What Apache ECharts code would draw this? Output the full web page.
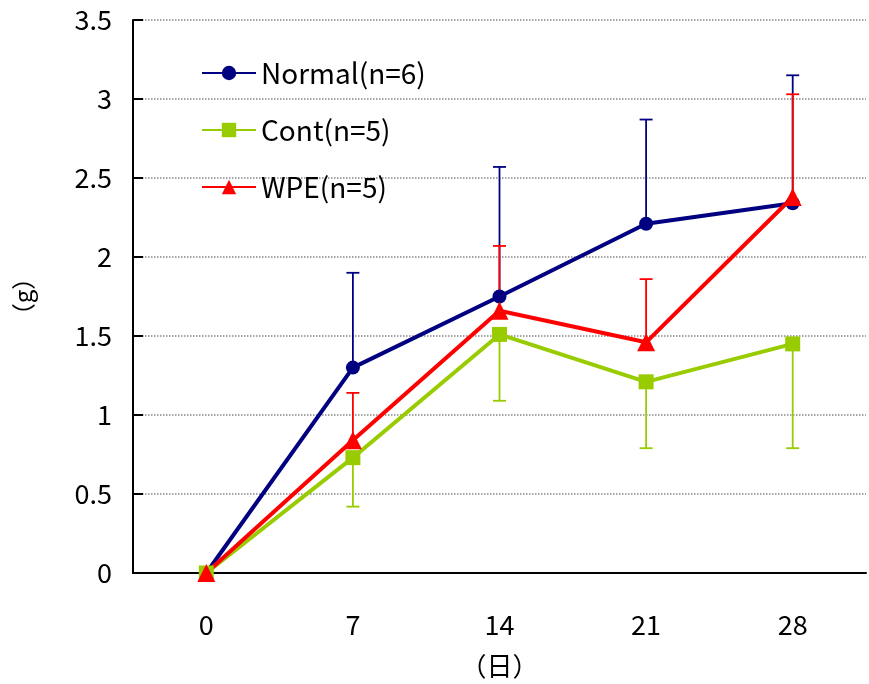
<!DOCTYPE html>
<html><head><meta charset="utf-8">
<script src="https://cdn.jsdelivr.net/npm/echarts@6/dist/echarts.min.js"></script>
<style>html,body{margin:0;padding:0;background:#fff}#c{width:869px;height:684px}</style>
</head><body><div id="c"></div>
<script>
const categories = ['0','7','14','21','28'];
const normalMean = [0, 1.30, 1.75, 2.21, 2.34];
const normalErrEnd = [null, 1.90, 2.57, 2.87, 3.15];
const contMean = [0, 0.73, 1.51, 1.21, 1.45];
const contErrEnd = [null, 0.42, 1.09, 0.79, 0.79];
const wpeMean = [0, 0.84, 1.66, 1.46, 2.38];
const wpeErrEnd = [null, 1.14, 2.07, 1.86, 3.03];
const yTicks = [0, 0.5, 1, 1.5, 2, 2.5, 3, 3.5];

const FONT = '"Noto Sans CJK JP", "Noto Sans", sans-serif';
const C_N = '#000080', C_C = '#99CC00', C_W = '#FF0000';

function errData(mean, end) {
  const out = [];
  mean.forEach((m, i) => { if (end[i] != null) out.push([i, m, end[i]]); });
  return out;
}
function errSeries(mean, end, color) {
  return {
    type: 'custom', z: 1, silent: true,
    data: errData(mean, end),
    renderItem: function (params, api) {
      const p0 = api.coord([api.value(0), api.value(1)]);
      const p1 = api.coord([api.value(0), api.value(2)]);
      const hw = 6.5;
      const st = { stroke: color, lineWidth: 1.8 };
      return { type: 'group', children: [
        { type: 'line', shape: { x1: p0[0], y1: p0[1], x2: p1[0], y2: p1[1] }, style: st },
        { type: 'line', shape: { x1: p1[0] - hw, y1: p1[1], x2: p1[0] + hw, y2: p1[1] }, style: st }
      ]};
    }
  };
}
function lineSeries(name, data, color, symbol, size) {
  return {
    name: name, type: 'line', z: 2, data: data,
    symbol: symbol, symbolSize: size, showAllSymbol: true,
    lineStyle: { color: color, width: 4 },
    itemStyle: { color: color },
    emphasis: { disabled: true }, animation: false
  };
}

const chart = echarts.init(document.getElementById('c'));
chart.setOption({
  animation: false,
  backgroundColor: '#fff',
  grid: { left: 133, right: 3, top: 20, bottom: 111, containLabel: false },
  legend: {
    data: ['Normal(n=6)', 'Cont(n=5)', 'WPE(n=5)'],
    orient: 'vertical', left: 196, top: 54,
    itemWidth: 54, itemHeight: 18, itemGap: 29,
    textStyle: { fontFamily: FONT, fontSize: 28, color: '#000' },
    selectedMode: false
  },
  xAxis: {
    type: 'category', data: categories, boundaryGap: true,
    name: '（日）', nameLocation: 'middle', nameGap: 80,
    nameTextStyle: { fontFamily: FONT, fontSize: 26, color: '#000' },
    axisLine: { lineStyle: { color: '#000', width: 2 } },
    axisTick: { inside: true, length: 10, lineStyle: { color: '#000', width: 2 } },
    axisLabel: { fontFamily: FONT, fontSize: 27, color: '#000', margin: 38 },
    splitLine: { show: false }
  },
  yAxis: {
    type: 'value', min: 0, max: 3.5, interval: 0.5,
    name: '（g）', nameLocation: 'middle', nameRotate: 90, nameGap: 98,
    nameTextStyle: { fontFamily: FONT, fontSize: 24, color: '#000' },
    axisLine: { show: true, lineStyle: { color: '#000', width: 2 } },
    axisTick: { show: true, inside: true, length: 10, lineStyle: { color: '#000', width: 2 } },
    axisLabel: { fontFamily: FONT, fontSize: 27, color: '#000', margin: 21,
      formatter: function (v) { return yTicks.indexOf(v) >= 0 ? String(v) : ''; } },
    splitLine: { show: true, lineStyle: { color: '#888', type: 'dotted', width: 1.5 } }
  },
  series: [
    errSeries(normalMean, normalErrEnd, C_N),
    errSeries(contMean, contErrEnd, C_C),
    errSeries(wpeMean, wpeErrEnd, C_W),
    lineSeries('Normal(n=6)', normalMean, C_N, 'circle', 14),
    lineSeries('Cont(n=5)', contMean, C_C, 'rect', 15),
    lineSeries('WPE(n=5)', wpeMean, C_W, 'triangle', 18)
  ]
});
</script></body></html>
